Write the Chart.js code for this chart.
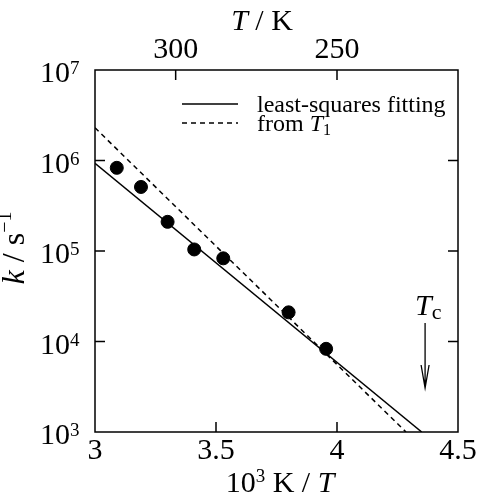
<!DOCTYPE html>
<html>
<head>
<meta charset="utf-8">
<script src="https://cdn.jsdelivr.net/npm/chart.js@4/dist/chart.umd.min.js"></script>
<style>
  body { margin: 0; background: #fff; }
  canvas { display: block; }
</style>
</head>
<body>
<canvas id="grafico" width="479" height="495"></canvas>
<script>
// ticks
const xTicks = [3, 3.5, 4, 4.5];
const topTicksK = [300, 250];
const yDecades = [3, 4, 5, 6, 7];

// measured rate constants (10^3 K / T , k / s^-1)
const medidosX = [3.09, 3.19, 3.30, 3.41, 3.53, 3.80, 3.955];
const medidosK = [8.3e5, 5.1e5, 2.1e5, 1.04e5, 8.3e4, 2.1e4, 8.3e3];

// least-squares fit line
const ajusteX = [3, 4.35];
const ajusteK = [9.3e5, 1e3];

// line from T1
const t1X = [3, 4.285];
const t1K = [2.3e6, 1e3];

// Tc arrow (x position, top and bottom of arrow, head start)
const tcX = 4.364;
const tcArrow = [16000, 3060, 5500];

const SERIF = '"Liberation Serif", "Times New Roman", serif';
const pares = (xs, ys) => xs.map((x, i) => ({ x: x, y: ys[i] }));

// draws pieces of text one after another: [text, font, dy]
function textoCompuesto(ctx, partes, x, y, align) {
  let total = 0;
  partes.forEach((p) => { ctx.font = p[1]; total += ctx.measureText(p[0]).width; });
  let cx = align === "center" ? x - total / 2 : x;
  ctx.textAlign = "left";
  ctx.textBaseline = "alphabetic";
  partes.forEach((p) => {
    ctx.font = p[1];
    ctx.fillText(p[0], cx, y + (p[2] || 0));
    cx += ctx.measureText(p[0]).width;
  });
}

const extras = {
  id: "extras",
  afterDraw(chart) {
    const ctx = chart.ctx;
    const a = chart.chartArea;
    const sx = chart.scales.x;
    const sy = chart.scales.y;
    ctx.save();
    ctx.strokeStyle = "#000";
    ctx.fillStyle = "#000";

    // frame
    ctx.lineWidth = 1.5;
    ctx.strokeRect(a.left, a.top, a.right - a.left, a.bottom - a.top);

    // inward ticks
    const L = 10;
    ctx.beginPath();
    xTicks.slice(1, -1).forEach((v) => {
      const px = sx.getPixelForValue(v);
      ctx.moveTo(px, a.bottom); ctx.lineTo(px, a.bottom - L);
    });
    topTicksK.forEach((T) => {
      const px = sx.getPixelForValue(1000 / T);
      ctx.moveTo(px, a.top); ctx.lineTo(px, a.top + L);
    });
    yDecades.slice(1, -1).forEach((n) => {
      const py = sy.getPixelForValue(Math.pow(10, n));
      ctx.moveTo(a.left, py); ctx.lineTo(a.left + L, py);
      ctx.moveTo(a.right, py); ctx.lineTo(a.right - L, py);
    });
    ctx.stroke();

    // y tick labels 10^n
    yDecades.forEach((n) => {
      const py = sy.getPixelForValue(Math.pow(10, n));
      textoCompuesto(ctx, [
        ["10", "30px " + SERIF, 0],
        [String(n), "19px " + SERIF, -8],
      ], 40, py + 12, "left");
    });

    // axis titles
    textoCompuesto(ctx, [
      ["10", "30px " + SERIF, 0],
      ["3", "19px " + SERIF, -10],
      [" K / ", "30px " + SERIF, 0],
      ["T", "italic 30px " + SERIF, 0],
    ], 280, 492, "center");

    textoCompuesto(ctx, [
      ["T", "italic 30px " + SERIF, 0],
      [" / K", "30px " + SERIF, 0],
    ], 262, 30, "center");

    ctx.save();
    ctx.translate(24, 248);
    ctx.rotate(-Math.PI / 2);
    textoCompuesto(ctx, [
      ["k", "italic 32px " + SERIF, 0],
      [" / s", "32px " + SERIF, 0],
      ["\u22121", "20px " + SERIF, -13],
    ], 0, 0, "center");
    ctx.restore();

    // legend
    ctx.lineWidth = 1.5;
    ctx.beginPath();
    ctx.moveTo(182, 104); ctx.lineTo(238, 104);
    ctx.stroke();
    ctx.setLineDash([5, 4]);
    ctx.beginPath();
    ctx.moveTo(182, 123); ctx.lineTo(238, 123);
    ctx.stroke();
    ctx.setLineDash([]);
    textoCompuesto(ctx, [["least-squares fitting", "24px " + SERIF, 0]], 257, 112, "left");
    textoCompuesto(ctx, [
      ["from ", "24px " + SERIF, 0],
      ["T", "italic 24px " + SERIF, 0],
      ["1", "16px " + SERIF, 4],
    ], 257, 131, "left");

    // Tc arrow
    const ax = sx.getPixelForValue(tcX);
    const ay1 = sy.getPixelForValue(tcArrow[0]);
    const ay2 = sy.getPixelForValue(tcArrow[1]);
    const ay3 = sy.getPixelForValue(tcArrow[2]);
    ctx.lineWidth = 1.3;
    ctx.beginPath();
    ctx.moveTo(ax, ay1); ctx.lineTo(ax, ay2);
    ctx.moveTo(ax - 4, ay3); ctx.lineTo(ax, ay2); ctx.lineTo(ax + 4, ay3);
    ctx.stroke();
    textoCompuesto(ctx, [
      ["T", "italic 30px " + SERIF, 0],
      ["c", "22px " + SERIF, 4],
    ], ax - 10, ay1 - 8, "left");

    ctx.restore();
  },
};

new Chart(document.getElementById("grafico"), {
  type: "scatter",
  data: {
    datasets: [
      {
        label: "least-squares fitting",
        data: pares(ajusteX, ajusteK),
        showLine: true,
        borderColor: "#000",
        borderWidth: 1.5,
        pointRadius: 0,
      },
      {
        label: "from T1",
        data: pares(t1X, t1K),
        showLine: true,
        borderColor: "#000",
        borderWidth: 1.5,
        borderDash: [5, 4],
        pointRadius: 0,
      },
      {
        label: "k",
        data: pares(medidosX, medidosK),
        showLine: false,
        pointRadius: 6.5,
        backgroundColor: "#000",
        borderColor: "#000",
      },
    ],
  },
  plugins: [extras],
  options: {
    responsive: false,
    animation: false,
    layout: { padding: { left: 0, right: 21, top: 0, bottom: 0 } },
    plugins: { legend: { display: false }, tooltip: { enabled: false } },
    scales: {
      x: {
        type: "linear",
        position: "bottom",
        min: 3,
        max: 4.5,
        afterBuildTicks: (s) => { s.ticks = xTicks.map((v) => ({ value: v })); },
        afterFit: (s) => { s.height = 63; },
        grid: { display: false },
        border: { display: false },
        ticks: {
          color: "#000",
          font: { family: SERIF, size: 30 },
          padding: -7,
          maxRotation: 0,
          callback: (v) => String(v),
        },
      },
      xTop: {
        type: "linear",
        position: "top",
        min: 3,
        max: 4.5,
        afterBuildTicks: (s) => { s.ticks = topTicksK.map((T) => ({ value: 1000 / T })); },
        afterFit: (s) => { s.height = 70; },
        grid: { display: false },
        border: { display: false },
        ticks: {
          color: "#000",
          font: { family: SERIF, size: 30 },
          padding: -6,
          maxRotation: 0,
          callback: (v) => String(Math.round(1000 / v)),
        },
      },
      y: {
        type: "logarithmic",
        min: 1e3,
        max: 1e7,
        afterFit: (s) => { s.width = 95; },
        grid: { display: false },
        border: { display: false },
        ticks: { display: false },
      },
    },
  },
});
</script>
</body>
</html>
